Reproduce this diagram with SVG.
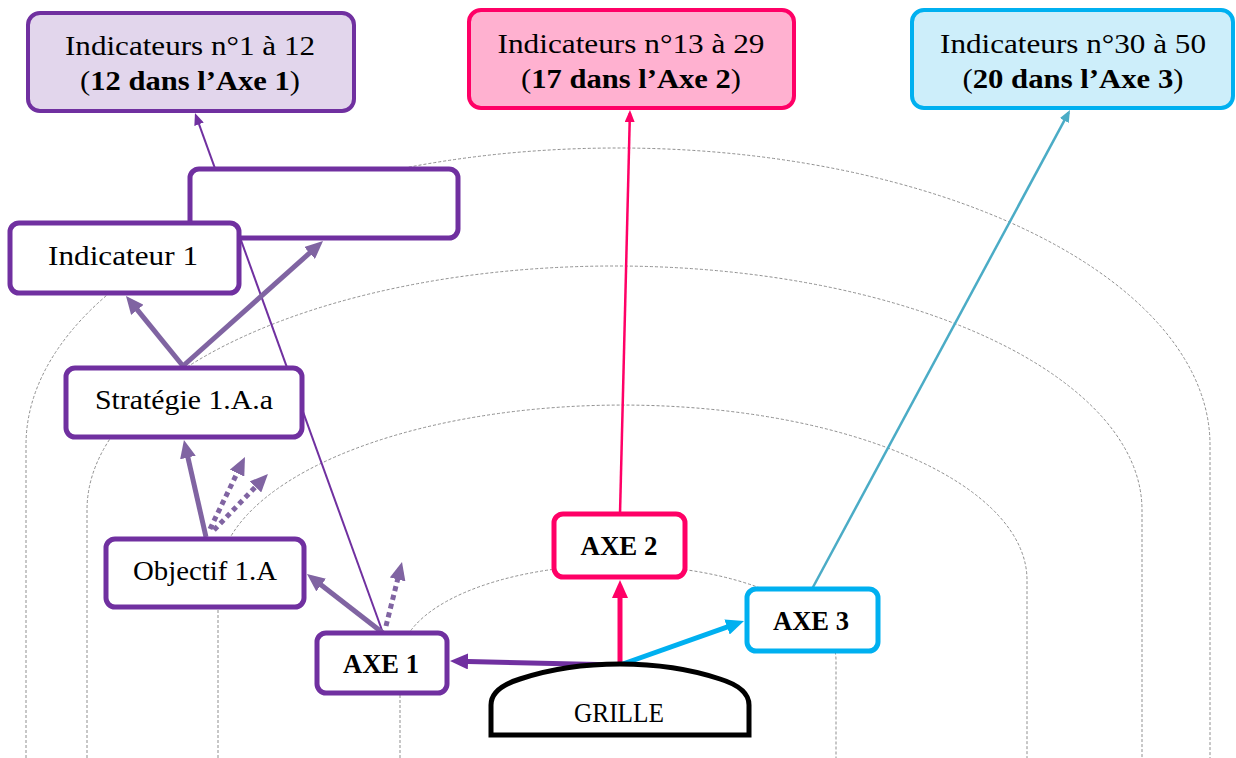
<svg xmlns="http://www.w3.org/2000/svg" width="1236" height="758" viewBox="0 0 1236 758">
<style>
.arch{fill:none;stroke:#8f8f8f;stroke-width:1;stroke-dasharray:3 2}
.t{font-family:"Liberation Serif","Times New Roman",serif;font-size:28px;fill:#000;text-anchor:middle}
.b{font-weight:bold}
.node{fill:#fff;stroke-width:5}
.pur{stroke:#7030A0}
.pnk{stroke:#FF0066}
.cyn{stroke:#00B0F0}
.thick{fill:none;stroke-width:5}
.dot{stroke-dasharray:5 4}
</style>
<defs>
<marker id="mPur" viewBox="0 0 18 16" refX="11" refY="8" markerWidth="18" markerHeight="16" markerUnits="userSpaceOnUse" orient="auto"><path d="M0,0 L18,8 L0,16 z" fill="#7030A0"/></marker>
<marker id="mMut" viewBox="0 0 18 16" refX="11" refY="8" markerWidth="18" markerHeight="16" markerUnits="userSpaceOnUse" orient="auto"><path d="M0,0 L18,8 L0,16 z" fill="#8064A2"/></marker>
<marker id="mPnk" viewBox="0 0 18 16" refX="11" refY="8" markerWidth="18" markerHeight="16" markerUnits="userSpaceOnUse" orient="auto"><path d="M0,0 L18,8 L0,16 z" fill="#FF0066"/></marker>
<marker id="mCyn" viewBox="0 0 18 16" refX="11" refY="8" markerWidth="18" markerHeight="16" markerUnits="userSpaceOnUse" orient="auto"><path d="M0,0 L18,8 L0,16 z" fill="#00B0F0"/></marker>
<marker id="tPur" viewBox="0 0 12 10" refX="9" refY="5" markerWidth="12" markerHeight="10" markerUnits="userSpaceOnUse" orient="auto"><path d="M0,0 L12,5 L0,10 z" fill="#7030A0"/></marker>
<marker id="tPnk" viewBox="0 0 12 10" refX="9" refY="5" markerWidth="12" markerHeight="10" markerUnits="userSpaceOnUse" orient="auto"><path d="M0,0 L12,5 L0,10 z" fill="#FF0066"/></marker>
<marker id="tTeal" viewBox="0 0 12 10" refX="9" refY="5" markerWidth="12" markerHeight="10" markerUnits="userSpaceOnUse" orient="auto"><path d="M0,0 L12,5 L0,10 z" fill="#4BACC6"/></marker>
</defs>
<rect width="1236" height="758" fill="#fff"/>
<g id="arches">
<path class="arch" d="M400,758 V660 A218,95 0 0 1 836,660 V758"/>
<path class="arch" d="M218,758 V580 A404.5,175 0 0 1 1027,580 V758"/>
<path class="arch" d="M87,758 V510 A527.5,244 0 0 1 1142,510 V758"/>
<path class="arch" d="M26,758 V445 A592,297 0 0 1 1210,445 V758"/>
</g>
<g id="connectors">
<line x1="383" y1="633" x2="196" y2="115.8" stroke="#7030A0" stroke-width="2" marker-end="url(#tPur)"/>
<line x1="620" y1="514" x2="629.9" y2="113" stroke="#FF0066" stroke-width="2.5" marker-end="url(#tPnk)"/>
<line x1="812" y1="589" x2="1068.6" y2="112.6" stroke="#4BACC6" stroke-width="2.5" marker-end="url(#tTeal)"/>
<line x1="620" y1="665" x2="457" y2="661.2" class="thick" stroke="#7030A0" marker-end="url(#mPur)"/>
<line x1="620" y1="665" x2="620" y2="587" class="thick" stroke="#FF0066" marker-end="url(#mPnk)"/>
<line x1="620" y1="665" x2="737.4" y2="623.3" class="thick" stroke="#00B0F0" marker-end="url(#mCyn)"/>
<line x1="383" y1="633" x2="312.5" y2="578.3" class="thick" stroke="#8064A2" marker-end="url(#mMut)"/>
<line x1="386" y1="626" x2="400.3" y2="568.8" class="thick dot" stroke="#8064A2" marker-end="url(#mMut)"/>
<line x1="206" y1="537" x2="185.5" y2="446.8" class="thick" stroke="#8064A2" marker-end="url(#mMut)"/>
<line x1="210" y1="529" x2="241.9" y2="463.3" class="thick dot" stroke="#8064A2" marker-end="url(#mMut)"/>
<line x1="214" y1="530" x2="263.1" y2="479" class="thick dot" stroke="#8064A2" marker-end="url(#mMut)"/>
<line x1="183" y1="366" x2="130.4" y2="301.4" class="thick" stroke="#8064A2" marker-end="url(#mMut)"/>
<line x1="183" y1="366" x2="317.8" y2="245.7" class="thick" stroke="#8064A2" marker-end="url(#mMut)"/>
</g>
<g id="ind1-12">
<rect x="28" y="13" width="326" height="98" rx="12" fill="#E2D6EC" stroke="#7030A0" stroke-width="4"/>
<text class="t" x="190" y="55" textLength="250" lengthAdjust="spacingAndGlyphs">Indicateurs n°1 à 12</text>
<text class="t" x="190" y="90" textLength="220" lengthAdjust="spacingAndGlyphs">(<tspan class="b">12 dans l’Axe 1</tspan>)</text>
</g>
<g id="ind13-29">
<rect x="469" y="10" width="325" height="98" rx="12" fill="#FFB1D0" stroke="#FF0066" stroke-width="4"/>
<text class="t" x="631" y="53" textLength="267" lengthAdjust="spacingAndGlyphs">Indicateurs n°13 à 29</text>
<text class="t" x="631" y="88" textLength="220" lengthAdjust="spacingAndGlyphs">(<tspan class="b">17 dans l’Axe 2</tspan>)</text>
</g>
<g id="ind30-50">
<rect x="912" y="10" width="321" height="98" rx="12" fill="#CDEEFA" stroke="#00B0F0" stroke-width="4"/>
<text class="t" x="1073" y="53" textLength="266" lengthAdjust="spacingAndGlyphs">Indicateurs n°30 à 50</text>
<text class="t" x="1073" y="88" textLength="221" lengthAdjust="spacingAndGlyphs">(<tspan class="b">20 dans l’Axe 3</tspan>)</text>
</g>
<g id="empty-box">
<rect class="node pur" x="190" y="169" width="268" height="69" rx="9"/>
</g>
<g id="indicateur1">
<rect class="node pur" x="10" y="223" width="229" height="70" rx="9"/>
<text class="t" x="123" y="265" textLength="150" lengthAdjust="spacingAndGlyphs">Indicateur 1</text>
</g>
<g id="strategie">
<rect class="node pur" x="66" y="368" width="236" height="69" rx="9"/>
<text class="t" x="184" y="409" textLength="178" lengthAdjust="spacingAndGlyphs">Stratégie 1.A.a</text>
</g>
<g id="objectif">
<rect class="node pur" x="106" y="539" width="198" height="68" rx="9"/>
<text class="t" x="205" y="580" textLength="144" lengthAdjust="spacingAndGlyphs">Objectif 1.A</text>
</g>
<g id="axe1">
<rect class="node pur" x="317" y="633" width="130" height="60" rx="9"/>
<text class="t b" x="381" y="673" textLength="76" lengthAdjust="spacingAndGlyphs">AXE 1</text>
</g>
<g id="axe2">
<rect class="node pnk" x="554" y="514" width="131" height="63" rx="9"/>
<text class="t b" x="619" y="555" textLength="77" lengthAdjust="spacingAndGlyphs">AXE 2</text>
</g>
<g id="axe3">
<rect class="node cyn" x="747" y="589" width="131" height="62" rx="9"/>
<text class="t b" x="811" y="630" textLength="76" lengthAdjust="spacingAndGlyphs">AXE 3</text>
</g>
<g id="grille">
<path d="M491,735 V705 Q491,688 520,679 Q565,664 620,664 Q675,664 720,679 Q749,688 749,705 V735 Z" fill="#fff" stroke="#000" stroke-width="5"/>
<text class="t" x="619" y="722" textLength="90" lengthAdjust="spacingAndGlyphs">GRILLE</text>
</g>
</svg>
